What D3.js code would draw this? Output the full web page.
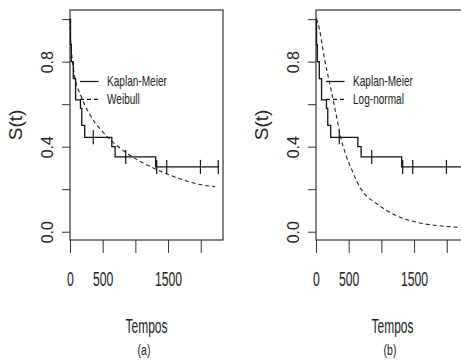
<!DOCTYPE html>
<html>
<head>
<meta charset="utf-8">
<script src="https://cdn.jsdelivr.net/npm/d3@7"></script>
<style>
  body { margin: 0; background: #fff; }
  svg { display: block; }
  text { font-family: "Liberation Sans", Arial, sans-serif; fill: #222; }
</style>
</head>
<body>
<div id="viz"></div>
<script>
let w = 461;
let h = 363;

// Kaplan-Meier steps (time, survival after step)
let kmTime = [0, 8, 20, 50, 85, 160, 180, 225, 640, 690, 1310, 2268];
let kmSurv = [1.0, 0.88, 0.80, 0.72, 0.62, 0.58, 0.50, 0.444, 0.40, 0.352, 0.305, 0.305];
// censored times
let censorTime = [356, 852, 1326, 1479, 1995, 2268];

// Weibull fit
let weibullTime = [0, 5, 20, 61, 179, 306, 561, 867, 1274, 1580, 1988, 2218];
let weibullSurv = [1.0, 0.93, 0.86, 0.75, 0.63, 0.55, 0.45, 0.37, 0.30, 0.26, 0.222, 0.212];

// Log-normal fit
let lognormTime = [0, 20, 138, 229, 341, 367, 470, 550, 612, 680, 740, 800, 876, 979, 1081, 1285, 1540, 1641, 1999, 2202, 2340];
let lognormSurv = [1.0, 0.99, 0.80, 0.67, 0.50, 0.46, 0.35, 0.29, 0.245, 0.205, 0.178, 0.16, 0.143, 0.12, 0.10, 0.068, 0.045, 0.038, 0.025, 0.02, 0.017];

let xTicks = [0, 500, 1000, 1500, 2000];
let xLabels = [0, 500, 1500];
let yTicks = [0, 0.2, 0.4, 0.6, 0.8, 1.0];
let yLabels = [0, 0.4, 0.8];

let panels = [
  { left: 70, fitName: "Weibull", fitTime: weibullTime, fitSurv: weibullSurv, tag: "(a)" },
  { left: 316, fitName: "Log-normal", fitTime: lognormTime, fitSurv: lognormSurv, tag: "(b)" }
];

let svg = d3.select("#viz").append("svg")
  .attr("width", w)
  .attr("height", h);

let boxTop = 10, boxBottom = 240, boxW = 153;

function drawPanel(p) {
  let g = svg.append("g");

  let xScale = d3.scaleLinear().domain([0, 2340]).range([p.left, p.left + boxW]);
  let yScale = d3.scaleLinear().domain([-0.039, 1.043]).range([boxBottom, boxTop]);

  // y axis
  let yAxis = d3.axisLeft(yScale)
    .tickValues(yTicks)
    .tickSize(8)
    .tickSizeOuter(0)
    .tickFormat(d => yLabels.includes(d) ? d.toFixed(1) : "");
  let yg = g.append("g").attr("transform", "translate(" + p.left + ",0)").call(yAxis);
  yg.select(".domain").remove();
  yg.selectAll("line").attr("stroke", "#333");
  yg.selectAll("text")
    .attr("x", null).attr("dy", null)
    .attr("fill", "#222")
    .style("font-size", "16px")
    .style("font-family", "'Liberation Sans', Arial, sans-serif")
    .attr("text-anchor", "middle")
    .attr("transform", "translate(-17,0) rotate(-90)");

  // x axis
  let xAxis = d3.axisBottom(xScale)
    .tickValues(xTicks)
    .tickSize(13)
    .tickSizeOuter(0)
    .tickFormat(d => xLabels.includes(d) ? d : "");
  let xg = g.append("g").attr("transform", "translate(0," + boxBottom + ")").call(xAxis);
  xg.select(".domain").remove();
  xg.selectAll("line").attr("stroke", "#333");
  xg.selectAll("text")
    .attr("y", null).attr("dy", null)
    .attr("fill", "#222")
    .style("font-size", "21px")
    .style("font-family", "'Liberation Sans', Arial, sans-serif")
    .attr("text-anchor", "middle")
    .attr("transform", "translate(0,46) scale(0.58,1)");

  // box
  g.append("rect")
    .attr("x", p.left).attr("y", boxTop)
    .attr("width", boxW).attr("height", boxBottom - boxTop)
    .attr("fill", "none").attr("stroke", "#333").attr("stroke-width", 1.2);

  // fitted curve (dashed)
  let fitData = p.fitTime.map((t, i) => ({ t: t, s: p.fitSurv[i] }));
  let fitLine = d3.line()
    .x(d => xScale(d.t))
    .y(d => yScale(d.s))
    .curve(d3.curveMonotoneX);
  g.append("path")
    .attr("d", fitLine(fitData))
    .attr("fill", "none")
    .attr("stroke", "#222")
    .attr("stroke-width", 1.1)
    .attr("stroke-dasharray", "4,3");

  // Kaplan-Meier step
  let kmData = kmTime.map((t, i) => ({ t: t, s: kmSurv[i] }));
  let kmLine = d3.line()
    .x(d => xScale(d.t))
    .y(d => yScale(d.s))
    .curve(d3.curveStepAfter);
  g.append("path")
    .attr("d", kmLine(kmData))
    .attr("fill", "none")
    .attr("stroke", "#111")
    .attr("stroke-width", 1.3);

  // censor marks
  function survAt(t) {
    let s = 1;
    for (let i = 0; i < kmTime.length; i++) { if (kmTime[i] <= t) s = kmSurv[i]; }
    return s;
  }
  g.selectAll(".censor").data(censorTime).enter()
    .append("line")
      .attr("class", "censor")
      .attr("x1", d => xScale(d)).attr("x2", d => xScale(d))
      .attr("y1", d => yScale(survAt(d)) - 7)
      .attr("y2", d => yScale(survAt(d)) + 7)
      .attr("stroke", "#111")
      .attr("stroke-width", 1.2);

  // legend
  let lx = p.left + 10;
  let legend = [
    { name: "Kaplan-Meier", dash: null, y: 81.5 },
    { name: p.fitName, dash: "4,3", y: 99.3 }
  ];
  legend.forEach(l => {
    g.append("line")
      .attr("x1", lx).attr("x2", lx + 18.5)
      .attr("y1", l.y).attr("y2", l.y)
      .attr("stroke", "#111").attr("stroke-width", 1.2)
      .attr("stroke-dasharray", l.dash);
    g.append("text")
      .attr("transform", "translate(" + (lx + 27) + "," + l.y + ") scale(0.72,1)")
      .attr("dy", "0.35em")
      .style("font-size", "14px")
      .text(l.name);
  });

  // axis labels
  g.append("text")
    .attr("transform", "translate(" + (p.left - 48) + "," + ((boxTop + boxBottom) / 2) + ") rotate(-90)")
    .attr("text-anchor", "middle")
    .style("font-size", "19px")
    .text("S(t)");

  let cx = p.left + boxW / 2;
  g.append("text")
    .attr("transform", "translate(" + cx + ",333) scale(0.6,1)")
    .attr("text-anchor", "middle")
    .style("font-size", "20px")
    .text("Tempos");
  g.append("text")
    .attr("transform", "translate(" + (cx - 2.5) + ",355) scale(0.7,1)")
    .attr("text-anchor", "middle")
    .style("font-size", "15px")
    .text(p.tag);
}

panels.forEach(drawPanel);
</script>
</body>
</html>
